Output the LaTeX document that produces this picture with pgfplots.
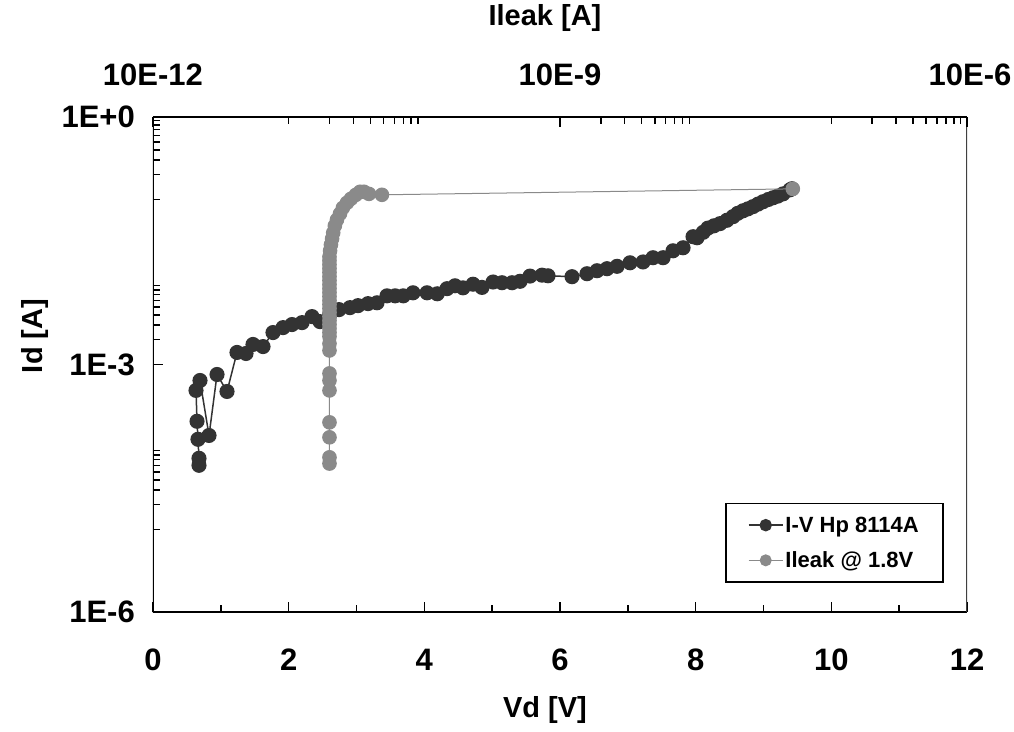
\documentclass[border=0pt]{standalone}
\usepackage{fontspec}
\setmainfont{Liberation Sans}
\usepackage{pgfplots}
\pgfplotsset{compat=1.18}
\definecolor{cdark}{HTML}{333333}
\definecolor{cgray}{HTML}{8A8A8A}
\begin{document}
\begin{tikzpicture}
\useasboundingbox (-153pt,-119pt) rectangle (861pt,612pt);
\pgfplotsset{
  every axis/.append style={
    width=814pt, height=495pt, scale only axis, at={(0pt,0pt)}, anchor=south west,
    tick style={line width=1.4pt, black}, major tick length=10pt, minor tick length=7pt,
    tick align=inside,
    ymode=log, ymin=1e-6, ymax=1,
    ticklabel style={font=\fontsize{31}{31}\selectfont\bfseries, inner sep=0pt},
  }
}
\begin{axis}[
  xmin=0, xmax=12,
  xtick={0,2,4,6,8,10,12}, xticklabels={0,2,4,6,8,10,12},
  minor xtick={1,3,5,7,9,11},
  xtick pos=left, ytick pos=left,
  ytick={1e-6,1e-3,1}, yticklabels={1E-6,1E-3,1E+0},
  minor ytick={1e-5,2e-5,3e-5,4e-5,5e-5,6e-5,7e-5,8e-5,9e-5,
               2e-3,3e-3,4e-3,5e-3,6e-3,7e-3,8e-3,9e-3,
               1e-1,2e-1,3e-1,4e-1,5e-1,6e-1,7e-1,8e-1,9e-1},
  xticklabel style={anchor=center, yshift=-48pt},
  yticklabel style={anchor=east, xshift=-18pt},
  axis line style={draw=none},
]
\draw[line width=2.5pt, black] (rel axis cs:0,1) -- (rel axis cs:0,0) -- (rel axis cs:1,0);
\draw[line width=1.3pt, black!75] (rel axis cs:1,0) -- (rel axis cs:1,1);
\addplot[cdark, line width=1.5pt, mark=*, mark size=6.8pt, mark options={fill=cdark, draw=cdark}] coordinates {
(0.678,6.0e-5) (0.678,7.3e-5) (0.663,1.24e-4) (0.649,2.05e-4) (0.634,4.85e-4) (0.693,6.4e-4)
(0.826,1.38e-4) (0.944,7.57e-4) (1.091,4.71e-4) (1.238,1.40e-3) (1.371,1.36e-3) (1.474,1.75e-3)
(1.622,1.65e-3) (1.769,2.44e-3) (1.917,2.80e-3) (2.049,3.05e-3) (2.197,3.22e-3) (2.344,3.81e-3)
(2.462,3.31e-3) (2.600,3.9e-3) (2.742,4.63e-3) (2.904,4.89e-3) (3.022,5.17e-3) (3.170,5.47e-3)
(3.302,5.6e-3) (3.450,6.8e-3) (3.570,6.8e-3) (3.690,6.8e-3) (3.833,7.4e-3) (4.040,7.4e-3)
(4.190,7.2e-3) (4.334,8.3e-3) (4.452,9.0e-3) (4.570,8.5e-3) (4.718,9.4e-3) (4.850,8.6e-3)
(5.013,1.0e-2) (5.145,9.8e-3) (5.293,9.8e-3) (5.411,1.02e-2) (5.558,1.18e-2) (5.735,1.21e-2)
(5.823,1.19e-2) (6.177,1.16e-2) (6.398,1.26e-2) (6.546,1.37e-2) (6.693,1.45e-2) (6.841,1.55e-2)
(7.032,1.71e-2) (7.224,1.75e-2) (7.371,1.97e-2) (7.519,1.97e-2) (7.666,2.39e-2) (7.814,2.60e-2)
(7.961,3.54e-2) (8.020,3.44e-2) (8.110,4.0e-2) (8.180,4.5e-2) (8.270,4.8e-2) (8.359,5.1e-2)
(8.460,5.6e-2) (8.551,6.2e-2) (8.620,6.8e-2) (8.698,7.3e-2) (8.770,7.7e-2) (8.846,8.2e-2)
(8.920,8.8e-2) (8.993,9.4e-2) (9.070,0.100) (9.141,0.105) (9.210,0.110) (9.288,0.117)
(9.390,0.131) (9.420,0.135)
};
\end{axis}
\begin{axis}[
  xmode=log, xmin=1e-11, xmax=1e-5,
  axis x line*=top, axis y line=none,
  axis line style={-, line width=2.5pt, black},
  xtick={1e-11,1e-8,1e-5}, xticklabels={10E-12,10E-9,\hspace*{6pt}10E-6},
  minor xtick={1e-10,2e-10,3e-10,4e-10,5e-10,6e-10,7e-10,8e-10,9e-10,
               2e-8,3e-8,4e-8,5e-8,6e-8,7e-8,8e-8,9e-8,
               1e-6,2e-6,3e-6,4e-6,5e-6,6e-6,7e-6,8e-6,9e-6},
  xticklabel style={anchor=center, yshift=42pt},
  legend style={at={(0.703,0.059)}, anchor=south west, draw=black, line width=1.5pt, fill=white,
    font=\fontsize{22}{22}\selectfont\bfseries, inner xsep=22pt, inner ysep=11pt, row sep=14pt,
    nodes={inner sep=2pt}},
  legend cell align=left,
  legend image code/.code={\draw[#1, mark repeat=2, mark phase=2, mark size=5.5pt] plot coordinates {(0pt,0pt) (17pt,0pt) (34pt,0pt)};},
]
\addlegendimage{cdark, line width=1.5pt, mark=*, mark options={fill=cdark, draw=cdark}}
\addlegendentry{I-V Hp 8114A}
\addplot[cgray, line width=1pt, mark=*, mark size=6.8pt, mark options={fill=cgray, draw=cgray}] coordinates {
(2.0e-10,6.3e-5) (2.0e-10,7.5e-5) (2.0e-10,1.31e-4) (2.0e-10,1.99e-4) (2.0e-10,4.85e-4)
(2.0e-10,6.4e-4) (2.0e-10,7.8e-4) (2.0e-10,1.48e-3) (2.0e-10,1.79e-3) (2.0e-10,2.18e-3)
(2.0e-10,2.44e-3) (2.0e-10,2.73e-3) (2.0e-10,3.05e-3) (2.0e-10,3.40e-3) (2.0e-10,3.81e-3)
(2.0e-10,4.26e-3) (2.0e-10,4.76e-3) (2.0e-10,5.32e-3) (2.0e-10,5.94e-3) (2.0e-10,6.65e-3)
(2.0e-10,7.43e-3) (2.0e-10,8.30e-3) (2.0e-10,9.29e-3) (2.0e-10,1.04e-2) (2.0e-10,1.16e-2)
(2.0e-10,1.30e-2) (2.0e-10,1.45e-2) (2.0e-10,1.62e-2) (2.0e-10,1.81e-2) (2.0e-10,2.02e-2)
(2.02e-10,2.39e-2) (2.05e-10,2.83e-2) (2.09e-10,3.34e-2) (2.13e-10,3.95e-2) (2.19e-10,4.80e-2)
(2.27e-10,5.67e-2) (2.39e-10,6.71e-2) (2.51e-10,7.93e-2) (2.69e-10,9.12e-2) (2.88e-10,0.102)
(3.13e-10,0.114) (3.36e-10,0.124) (3.59e-10,0.124) (3.91e-10,0.117) (4.87e-10,0.114)
(5.2e-7,0.1346)
};
\addlegendentry{Ileak @ 1.8V}
\end{axis}
\node[font=\fontsize{29}{29}\selectfont\bfseries] at (392pt,594pt) {Ileak [A]};
\node[font=\fontsize{29}{29}\selectfont\bfseries] at (392pt,-98pt) {Vd [V]};
\node[font=\fontsize{29}{29}\selectfont\bfseries, rotate=90] at (-118pt,276pt) {Id [A]};
\end{tikzpicture}
\end{document}
